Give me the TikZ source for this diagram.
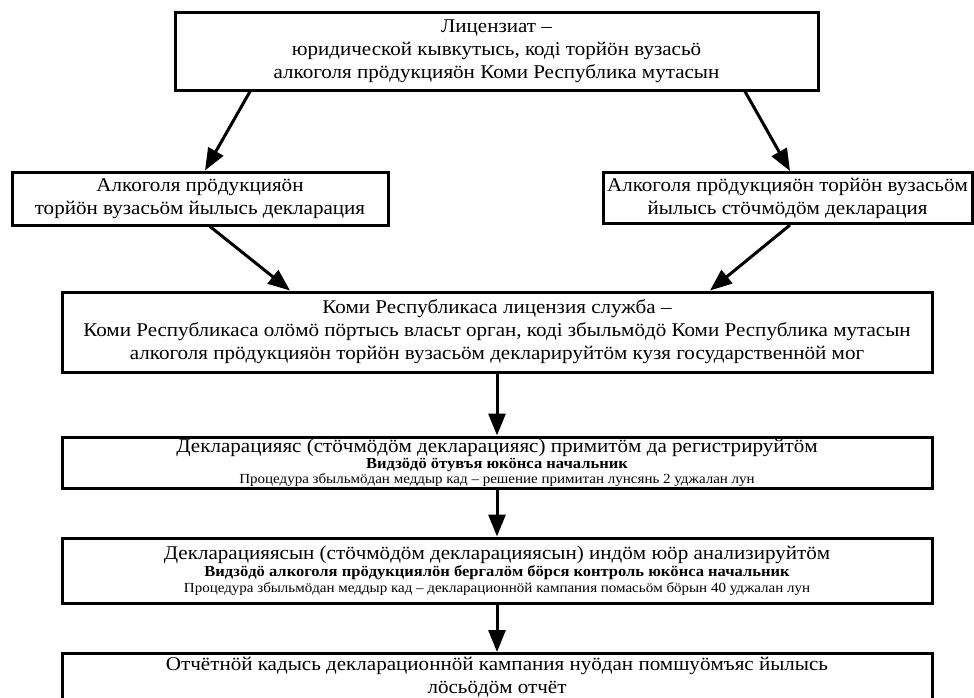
\documentclass[tikz,border=0pt]{standalone}
\usepackage{fontspec}
\setmainfont{Liberation Serif}[FakeStretch=1.08]
\usetikzlibrary{arrows.meta,positioning}
\newcommand{\bigtxt}{\fontsize{19.5}{23}\selectfont\lineskiplimit=-20pt\relax}
\newcommand{\tighttxt}{\fontsize{19.5}{15}\selectfont\lineskiplimit=-20pt\relax}
\newcommand{\boldtxt}{\fontsize{15.3}{15}\selectfont\bfseries}
\newcommand{\smalltxt}{\fontsize{13.9}{14}\selectfont}

\tikzset{
	box/.style={draw, line width=3pt, align=center, inner sep=0pt, font=\bigtxt},
	wide/.style={box, minimum width=870pt},
	flow/.style={line width=3pt, -{Triangle[length=22pt,width=17pt]}}
}

\begin{document}
\begin{tikzpicture}[x=1pt,y=1pt]
	\useasboundingbox (0,0) rectangle (974,-697);
	\node[box, minimum width=643pt, minimum height=78pt] (lic) at (496.5,-51)
		{Лицензиат –\\юридической кывкутысь, коді торйӧн вузасьӧ\\алкоголя прӧдукцияӧн Коми Республика мутасын};
	\node[box, minimum width=376pt, minimum height=53pt] (decl) at (200,-198.5)
		{Алкоголя прӧдукцияӧн\\торйӧн вузасьӧм йылысь декларация};
	\node[box, minimum width=369pt, minimum height=51pt] (corr) at (787.5,-198)
		{Алкоголя прӧдукцияӧн торйӧн вузасьӧм\\йылысь стӧчмӧдӧм декларация};
	\node[wide, minimum height=80pt] (serv) at (497,-332)
		{Коми Республикаса лицензия служба –\\Коми Республикаса олӧмӧ пӧртысь власьт орган, коді збыльмӧдӧ Коми Республика мутасын\\алкоголя прӧдукцияӧн торйӧн вузасьӧм декларируйтӧм кузя государственнӧй мог};
	\node[wide, minimum height=51pt, font=\tighttxt] (reg) at (497,-462.5)
		{Декларацияяс (стӧчмӧдӧм декларацияяс) примитӧм да регистрируйтӧм\\[1pt]
		{\boldtxt Видзӧдӧ ӧтувъя юкӧнса начальник}\\
		{\smalltxt Процедура збыльмӧдан меддыр кад – решение примитан лунсянь 2 уджалан лун}};
	\node[wide, minimum height=65pt, font=\tighttxt] (anal) at (497,-570.5)
		{Декларацияясын (стӧчмӧдӧм декларацияясын) индӧм юӧр анализируйтӧм\\[2pt]
		{\boldtxt Видзӧдӧ алкоголя прӧдукциялӧн бергалӧм бӧрся контроль юкӧнса начальник}\\[1pt]
		{\smalltxt Процедура збыльмӧдан меддыр кад – декларационнӧй кампания помасьӧм бӧрын 40 уджалан лун}};
	\node[wide, minimum height=70pt, anchor=north] (rep) at (497,-652) {};
	\node[below=2pt of rep.north, align=center, font=\bigtxt] (reptext)
		{Отчётнӧй кадысь декларационнӧй кампания нуӧдан помшуӧмъяс йылысь\\лӧсьӧдӧм отчёт};
	% arrows
	\draw[flow] ([xshift=-246.5pt]lic.south) -- ([xshift=5pt]decl.north);
	\draw[flow] ([xshift=248.5pt]lic.south) -- ([xshift=2.5pt]corr.north);
	\draw[flow] ([xshift=10pt]decl.south) -- ([xshift=-207pt]serv.north);
	\draw[flow] ([xshift=2.5pt]corr.south) -- ([xshift=213pt]serv.north);
	\draw[flow] (serv) -- (reg);
	\draw[flow] (reg) -- (anal);
	\draw[flow] (anal) -- (rep);
\end{tikzpicture}
\end{document}
